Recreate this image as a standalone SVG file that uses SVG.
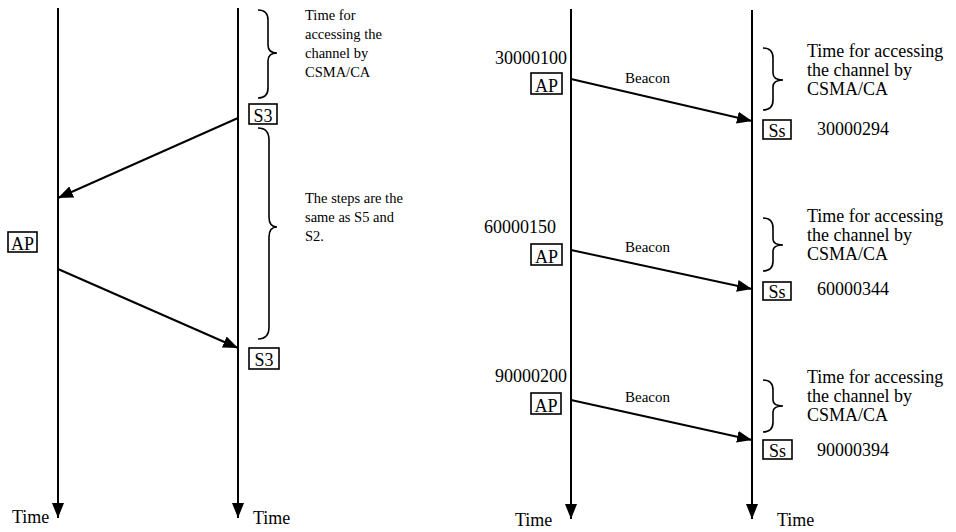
<svg xmlns="http://www.w3.org/2000/svg" width="956" height="532" viewBox="0 0 956 532">
<defs>
<marker id="ah" markerUnits="userSpaceOnUse" markerWidth="16" markerHeight="12" refX="15" refY="6" orient="auto">
<path d="M0,0 L15,6 L0,12 z" fill="#000"/>
</marker>
<style>
.life{stroke:#000;stroke-width:2;fill:none}
.msg{stroke:#000;stroke-width:2;fill:none}
.brace{stroke:#000;stroke-width:1.6;fill:none}
.box{stroke:#000;stroke-width:1.6;fill:#fff}
text{font-family:"Liberation Serif","Times New Roman",serif;fill:#000}
.lbl{font-size:18px}
.note{font-size:14.5px}
.note2{font-size:18px}
.bc{font-size:15px}
</style>
</defs>
<rect width="956" height="532" fill="#fff"/>

<g id="connectors">
<line class="life" x1="58" y1="8" x2="58" y2="518" marker-end="url(#ah)"/>
<line class="life" x1="238" y1="8" x2="238" y2="518" marker-end="url(#ah)"/>
<line class="life" x1="571" y1="9" x2="571" y2="519" marker-end="url(#ah)"/>
<line class="life" x1="752" y1="10" x2="752" y2="519" marker-end="url(#ah)"/>
<line class="msg" x1="238" y1="118" x2="58" y2="198" marker-end="url(#ah)"/>
<line class="msg" x1="58" y1="269" x2="238" y2="348" marker-end="url(#ah)"/>
<line class="msg" x1="571" y1="79" x2="752" y2="121" marker-end="url(#ah)"/>
<line class="msg" x1="571" y1="250" x2="752" y2="289" marker-end="url(#ah)"/>
<line class="msg" x1="571" y1="400" x2="752" y2="440" marker-end="url(#ah)"/>
</g>

<g id="left-panel-braces">
<path class="brace" d="M258,10 Q268,10 268,20 L268,45 Q268,53 277,53 Q268,53 268,61 L268,88 Q268,98 258,98"/>
<path class="brace" d="M258,128 Q269,128 269,140 L269,217 Q269,227 277,227 Q269,227 269,237 L269,327 Q269,339 258,339"/>
</g>

<g id="note-csma-left">
<text class="note" x="305" y="20">Time for</text>
<text class="note" x="305" y="39">accessing the</text>
<text class="note" x="305" y="58">channel by</text>
<text class="note" x="305" y="77">CSMA/CA</text>
</g>
<g id="note-steps">
<text class="note" x="305" y="203">The steps are the</text>
<text class="note" x="305" y="222">same as S5 and</text>
<text class="note" x="305" y="241">S2.</text>
</g>

<g id="node-s3-top">
<rect class="box" x="249" y="104" width="28" height="20"/>
<text class="lbl" x="263" y="122" text-anchor="middle">S3</text>
</g>
<g id="node-ap-left">
<rect class="box" x="8" y="232" width="29" height="20"/>
<text class="lbl" x="22.5" y="250" text-anchor="middle">AP</text>
</g>
<g id="node-s3-bottom">
<rect class="box" x="249" y="348" width="30" height="21"/>
<text class="lbl" x="264" y="366" text-anchor="middle">S3</text>
</g>

<g id="time-labels">
<text class="lbl" x="12" y="523">Time</text>
<text class="lbl" x="253" y="524">Time</text>
<text class="lbl" x="515" y="526">Time</text>
<text class="lbl" x="777" y="526">Time</text>
</g>

<g id="ap-1">
<text class="lbl" x="567" y="64" text-anchor="end">30000100</text>
<rect class="box" x="531" y="73" width="31" height="21"/>
<text class="lbl" x="546.5" y="92" text-anchor="middle">AP</text>
</g>
<text class="bc" x="625" y="83">Beacon</text>
<g id="ss-1">
<rect class="box" x="763" y="120" width="28" height="19"/>
<text class="lbl" x="777" y="137" text-anchor="middle">Ss</text>
<text class="lbl" x="817" y="135">30000294</text>
</g>
<g id="note-csma-1">
<path class="brace" d="M763,48 Q773,48 773,58 L773,73 Q773,80 783,80 Q773,80 773,87 L773,100 Q773,110 763,110"/>
<text class="note2" x="807" y="57">Time for accessing</text>
<text class="note2" x="807" y="76">the channel by</text>
<text class="note2" x="807" y="95">CSMA/CA</text>
</g>

<g id="ap-2">
<text class="lbl" x="556" y="233" text-anchor="end">60000150</text>
<rect class="box" x="531" y="244" width="31" height="21"/>
<text class="lbl" x="546.5" y="263" text-anchor="middle">AP</text>
</g>
<text class="bc" x="625" y="252">Beacon</text>
<g id="ss-2">
<rect class="box" x="763" y="282" width="28" height="18"/>
<text class="lbl" x="777" y="298" text-anchor="middle">Ss</text>
<text class="lbl" x="817" y="295">60000344</text>
</g>
<g id="note-csma-2">
<path class="brace" d="M763,218 Q773,218 773,228 L773,239 Q773,245 783,245 Q773,245 773,251 L773,261 Q773,271 763,271"/>
<text class="note2" x="807" y="222">Time for accessing</text>
<text class="note2" x="807" y="241">the channel by</text>
<text class="note2" x="807" y="260">CSMA/CA</text>
</g>

<g id="ap-3">
<text class="lbl" x="567" y="382" text-anchor="end">90000200</text>
<rect class="box" x="531" y="393" width="30" height="21"/>
<text class="lbl" x="546" y="412" text-anchor="middle">AP</text>
</g>
<text class="bc" x="625" y="402">Beacon</text>
<g id="ss-3">
<rect class="box" x="763" y="440" width="29" height="19"/>
<text class="lbl" x="777.5" y="457" text-anchor="middle">Ss</text>
<text class="lbl" x="817" y="456">90000394</text>
</g>
<g id="note-csma-3">
<path class="brace" d="M763,380 Q773,380 773,390 L773,400 Q773,406 783,406 Q773,406 773,412 L773,422 Q773,432 763,432"/>
<text class="note2" x="807" y="383">Time for accessing</text>
<text class="note2" x="807" y="402">the channel by</text>
<text class="note2" x="807" y="421">CSMA/CA</text>
</g>
</svg>
